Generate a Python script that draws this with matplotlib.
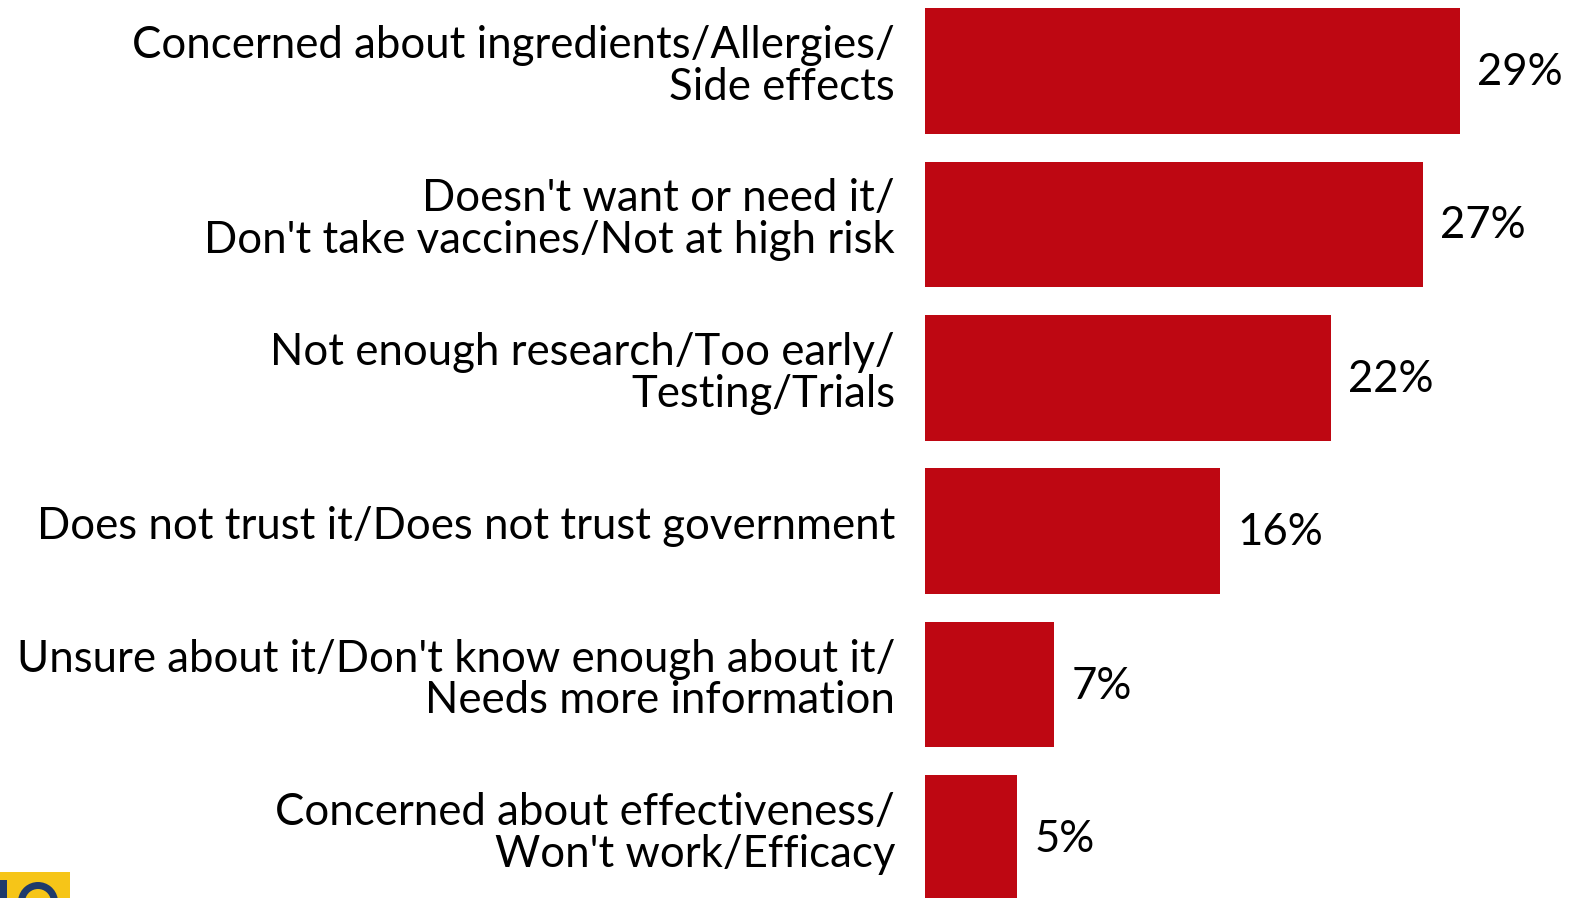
import matplotlib.pyplot as plt
from matplotlib.patches import Rectangle, Wedge

reasons = [
    "Concerned about ingredients/Allergies/\nSide effects",
    "Doesn't want or need it/\nDon't take vaccines/Not at high risk",
    "Not enough research/Too early/\nTesting/Trials",
    "Does not trust it/Does not trust government",
    "Unsure about it/Don't know enough about it/\nNeeds more information",
    "Concerned about effectiveness/\nWon't work/Efficacy",
]
shares = [29, 27, 22, 16, 7, 5]
value_labels = ["29%", "27%", "22%", "16%", "7%", "5%"]

bar_color = "#be0712"
font = "Lato"
px = 18.45  # pixels per percentage point

fig = plt.figure(figsize=(15.71, 8.98), dpi=100)
ax = fig.add_axes([0, 0, 1, 1])

pos = list(range(len(reasons)))
ax.barh(pos, shares, height=0.82, color=bar_color)

# bar base sits at x=925px
ax.set_xlim(-925 / px, (1571 - 925) / px)
ax.set_ylim((898 - 71) / 153.4, -71 / 153.4)
ax.axis("off")

for p, lab, v, txt in zip(pos, reasons, shares, value_labels):
    ax.text(-30 / px, p - 0.03, lab, ha="right", va="center", fontsize=31.5,
            family=font, linespacing=1.03, color="black")
    ax.text(v + 17 / px, p + 0.01, txt, ha="left", va="center",
            fontsize=31.5, family=font, color="black")

# cropped logo in the bottom-left corner
fig.patches.append(Rectangle((0, 0), 70 / 1571, 26 / 898, transform=fig.transFigure,
                             facecolor="#f6c518", edgecolor="none"))
fig.patches.append(Rectangle((0, 0), 7 / 1571, 18 / 898, transform=fig.transFigure,
                             facecolor="#1f3a6b", edgecolor="none"))
fig.patches.append(Wedge((38, -4), 20, 10, 170, width=7, transform=None,
                         facecolor="#1f3a6b", edgecolor="none"))

fig.savefig("out.png", dpi=100)
